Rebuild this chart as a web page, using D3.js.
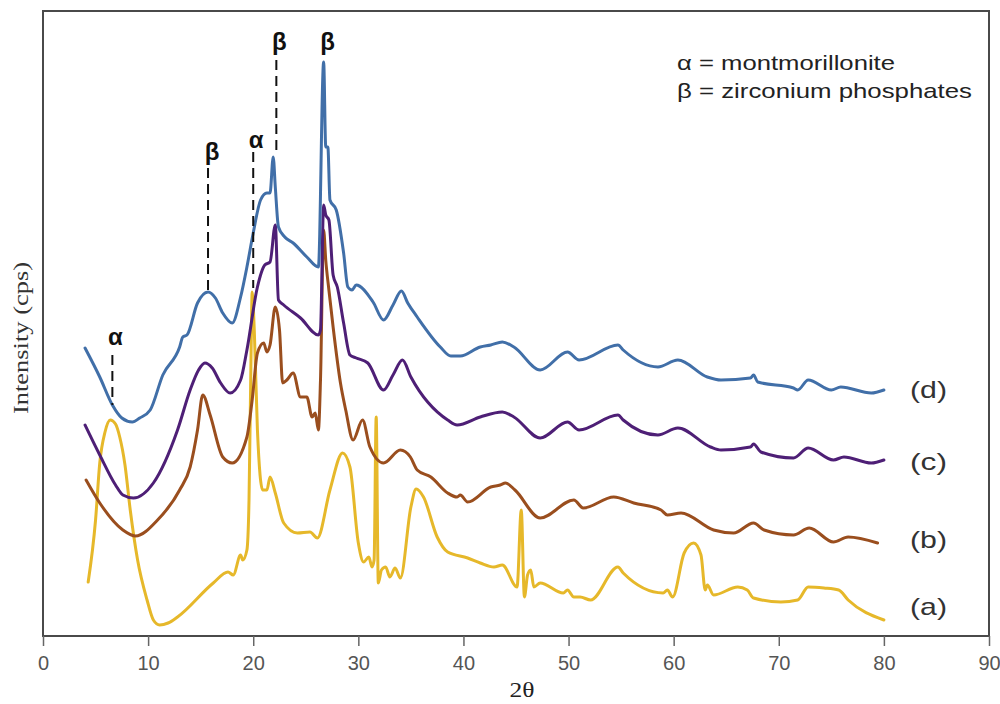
<!DOCTYPE html>
<html>
<head>
<meta charset="utf-8">
<script src="https://cdn.jsdelivr.net/npm/d3@7"></script>
<style>
  body { margin: 0; background: #fff; }
  svg { display: block; }
</style>
</head>
<body>
<div id="chart"></div>
<script>
// XRD patterns, 2θ vs intensity (arbitrary cps units, stacked as in the figure)
const seriesNames = ["(a)", "(b)", "(c)", "(d)"];
const seriesColors = ["#e6b82a", "#9a4e1e", "#4e1f76", "#416fa8"];

const curveA = [
  [4.3, 53], [5.0, 115], [5.4, 172], [5.9, 203], [6.4, 215], [6.9, 211], [7.3, 198], [7.8, 170],
  [8.3, 125], [9.0, 75], [9.9, 35], [10.5, 15], [11.1, 10], [11.9, 12], [12.8, 18], [16.2, 52],
  [17.6, 63], [18.1, 60], [18.8, 80], [19.0, 75], [19.4, 85], [19.6, 135], [19.8, 285], [19.9, 343],
  [20.1, 305], [20.4, 205], [20.9, 145], [21.3, 145], [21.6, 158], [22.1, 142], [22.9, 112],
  [24.2, 102], [25.4, 103], [26.1, 97], [27.3, 145], [28.5, 182], [29.2, 168], [30.0, 92],
  [30.5, 73], [31.0, 78], [31.3, 68], [31.5, 75], [31.7, 218], [31.9, 52], [32.2, 65], [32.6, 68],
  [33.0, 58], [33.5, 67], [34.0, 57], [35.0, 128], [35.5, 146], [36.2, 138], [37.5, 98], [38.5, 83],
  [40.4, 77], [41.6, 72], [42.9, 68], [43.7, 70], [45.1, 48], [45.5, 125], [45.8, 38], [46.1, 60],
  [46.4, 65], [46.7, 48], [47.3, 52], [49.5, 42], [49.9, 45], [50.5, 38], [51.1, 38], [52.1, 35],
  [54.7, 68], [55.2, 62], [59.0, 42], [59.4, 45], [59.9, 38], [61.0, 82], [61.9, 92], [62.6, 80],
  [63.0, 45], [63.2, 50], [63.8, 40], [66.1, 48], [67.0, 45], [67.6, 37], [70.2, 33], [71.8, 35],
  [72.8, 48], [74.3, 47], [75.7, 45], [76.6, 35], [80.0, 15]
];

const curveB = [
  [4.1, 155], [5.4, 132], [7.6, 105], [8.8, 99], [10.9, 115], [13.0, 145], [14.0, 168], [14.7, 205],
  [15.2, 240], [15.9, 220], [17.1, 178], [18.0, 172], [19.4, 198], [19.9, 235], [20.4, 282],
  [21.0, 292], [21.3, 283], [21.6, 290], [22.1, 328], [22.5, 305], [22.8, 252], [23.2, 255],
  [23.8, 262], [24.5, 238], [25.1, 238], [25.6, 218], [25.9, 222], [26.2, 205], [26.4, 255],
  [26.7, 405], [26.9, 375], [27.2, 345], [27.6, 308], [28.3, 252], [28.8, 225], [29.5, 195],
  [30.4, 215], [31.1, 188], [32.4, 172], [34.0, 185], [34.95, 178], [35.6, 165], [36.9, 158],
  [38.5, 142], [39.4, 138], [39.7, 140], [40.4, 133], [42.6, 148], [43.5, 150], [44.0, 152],
  [44.9, 145], [47.3, 117], [50.5, 135], [51.4, 127], [54.3, 138], [56.2, 132], [58.8, 125],
  [59.4, 120], [60.7, 122], [63.8, 105], [65.7, 102], [67.6, 112], [68.6, 105], [71.4, 100],
  [72.9, 107], [75.2, 93], [76.6, 98], [79.4, 92]
];

const curveC = [
  [4.0, 210], [5.4, 180], [6.9, 150], [7.6, 140], [8.6, 137], [10.5, 152], [12.8, 205], [14.0, 245],
  [14.8, 265], [15.4, 272], [16.1, 267], [16.9, 252], [17.8, 242], [18.8, 255], [19.4, 285],
  [20.4, 348], [21.1, 370], [21.6, 373], [22.1, 410], [22.4, 335], [22.9, 330], [24.5, 317],
  [26.2, 300], [26.4, 305], [26.7, 430], [26.9, 420], [27.2, 415], [27.6, 360], [28.0, 348],
  [28.6, 312], [29.2, 280], [29.8, 277], [30.9, 272], [32.4, 245], [33.3, 260], [34.2, 275],
  [35.0, 258], [38.5, 215], [39.4, 210], [41.6, 218], [43.7, 223], [44.8, 218], [47.3, 197],
  [49.9, 213], [51.0, 205], [54.7, 220], [55.2, 215], [58.5, 200], [60.4, 207], [63.5, 188],
  [64.5, 185], [67.3, 188], [67.6, 191], [68.3, 183], [71.4, 177], [72.8, 187], [75.2, 175],
  [76.2, 178], [78.8, 172], [80.0, 175]
];

const curveD = [
  [4.0, 287], [5.4, 258], [6.6, 230], [7.5, 217], [8.5, 213], [9.2, 217], [10.2, 225], [11.4, 260],
  [13.0, 288], [13.3, 298], [13.7, 300], [14.7, 332], [15.7, 343], [16.4, 337], [17.1, 322],
  [18.0, 312], [18.8, 338], [19.4, 368], [20.0, 402], [20.7, 435], [21.3, 442], [21.6, 442],
  [21.9, 478], [22.1, 448], [22.4, 408], [23.0, 398], [23.8, 392], [25.1, 378], [26.2, 368],
  [26.7, 573], [26.9, 488], [27.1, 488], [27.3, 435], [27.9, 425], [28.6, 382], [29.0, 348],
  [29.4, 345], [29.8, 350], [31.4, 333], [32.4, 315], [33.3, 330], [34.1, 344], [34.7, 332],
  [35.6, 318], [37.8, 288], [38.8, 279], [39.7, 279], [41.6, 288], [42.6, 290], [43.7, 293],
  [44.8, 288], [47.3, 265], [49.9, 283], [51.0, 275], [54.7, 290], [55.2, 285], [58.5, 268],
  [60.4, 275], [63.2, 258], [64.5, 255], [67.3, 257], [67.6, 260], [68.0, 253], [71.4, 247],
  [71.8, 245], [72.8, 255], [75.0, 245], [75.9, 248], [78.8, 242], [80.0, 245]
];

const seriesData = [curveA, curveB, curveC, curveD];
// intensity level where each "(x)" label sits, at the right end
const labelLevels = [20, 87, 165, 237];

// peak markers: 2θ, label, top and bottom of the dashed line (intensity)
const peakTheta = [6.6, 15.7, 20.0, 22.2, 26.8];
const peakLabel = ["α", "β", "α", "β", "β"];
const peakTextLevel = [290, 475, 487, 585, 585];
const peakLineTop = [280, 467, 483, 575, null];
const peakLineBottom = [230, 345, 347, 483, null];

const xTicks = d3.range(0, 91, 10);
const legendLines = ["α = montmorillonite", "β = zirconium phosphates"];

const width = 1000;
const height = 704;

const svg = d3.select("#chart").append("svg")
  .attr("width", width)
  .attr("height", height);

const x = d3.scaleLinear().domain([0, 90]).range([43, 989]);
const y = d3.scaleLinear().domain([0, 625]).range([635, 10]);

// frame
svg.append("rect")
  .attr("x", 43).attr("y", 11)
  .attr("width", 946).attr("height", 625)
  .attr("fill", "none")
  .attr("stroke", "#4a4a4a")
  .attr("stroke-width", 2);

// bottom axis
const xAxis = svg.append("g")
  .attr("transform", "translate(0,636)")
  .call(d3.axisBottom(x).tickValues(xTicks).tickSize(10).tickPadding(10).tickFormat(d3.format("d")));
xAxis.select(".domain").remove();
xAxis.selectAll(".tick line").attr("stroke", "#666").attr("stroke-width", 1.5);
xAxis.selectAll(".tick text")
  .attr("fill", "#555")
  .style("font-family", "'Liberation Sans', Arial, sans-serif")
  .style("font-size", "20px");

svg.append("text")
  .attr("x", 522).attr("y", 697)
  .attr("text-anchor", "middle")
  .attr("textLength", 25)
  .attr("lengthAdjust", "spacingAndGlyphs")
  .style("font-family", "'Liberation Serif', 'Times New Roman', serif")
  .style("font-size", "22px")
  .attr("fill", "#222")
  .text("2θ");

svg.append("text")
  .attr("transform", "translate(28,338) rotate(-90)")
  .attr("text-anchor", "middle")
  .attr("textLength", 152)
  .attr("lengthAdjust", "spacingAndGlyphs")
  .style("font-family", "'Liberation Serif', 'Times New Roman', serif")
  .style("font-size", "22px")
  .attr("fill", "#333")
  .text("Intensity (cps)");

// curves
const line = d3.line()
  .x(d => x(d[0]))
  .y(d => y(d[1]))
  .curve(d3.curveMonotoneX);

svg.append("g").selectAll("path")
  .data(seriesData)
  .join("path")
  .attr("d", line)
  .attr("fill", "none")
  .attr("stroke", (d, i) => seriesColors[i])
  .attr("stroke-width", 3)
  .attr("stroke-linejoin", "round")
  .attr("stroke-linecap", "round");

// series labels at the right
svg.append("g").selectAll("text")
  .data(seriesNames)
  .join("text")
  .attr("x", 910)
  .attr("y", (d, i) => y(labelLevels[i]))
  .attr("textLength", 37)
  .attr("lengthAdjust", "spacingAndGlyphs")
  .style("font-family", "'Liberation Sans', Arial, sans-serif")
  .style("font-size", "24px")
  .attr("fill", "#333")
  .text(d => d);

// peak markers
const peaks = svg.append("g");
peakTheta.forEach((t, i) => {
  if (peakLineTop[i] !== null) {
    peaks.append("line")
      .attr("x1", x(t)).attr("x2", x(t))
      .attr("y1", y(peakLineTop[i])).attr("y2", y(peakLineBottom[i]))
      .attr("stroke", "#111")
      .attr("stroke-width", 2)
      .attr("stroke-dasharray", "10,6");
  }
  peaks.append("text")
    .attr("x", x(t) + (i === 1 ? 4 : 3))
    .attr("y", y(peakTextLevel[i]))
    .attr("text-anchor", "middle")
    .style("font-family", "'Liberation Sans', Arial, sans-serif")
    .style("font-size", "24px")
    .style("font-weight", "bold")
    .attr("fill", "#111")
    .text(peakLabel[i]);
});

// legend
svg.append("g").selectAll("text")
  .data(legendLines)
  .join("text")
  .attr("x", 677)
  .attr("y", (d, i) => 70 + i * 28)
  .attr("textLength", (d, i) => (i === 0 ? 218 : 295))
  .attr("lengthAdjust", "spacingAndGlyphs")
  .style("font-family", "'Liberation Sans', Arial, sans-serif")
  .style("font-size", "21px")
  .attr("fill", "#222")
  .text(d => d);
</script>
</body>
</html>
